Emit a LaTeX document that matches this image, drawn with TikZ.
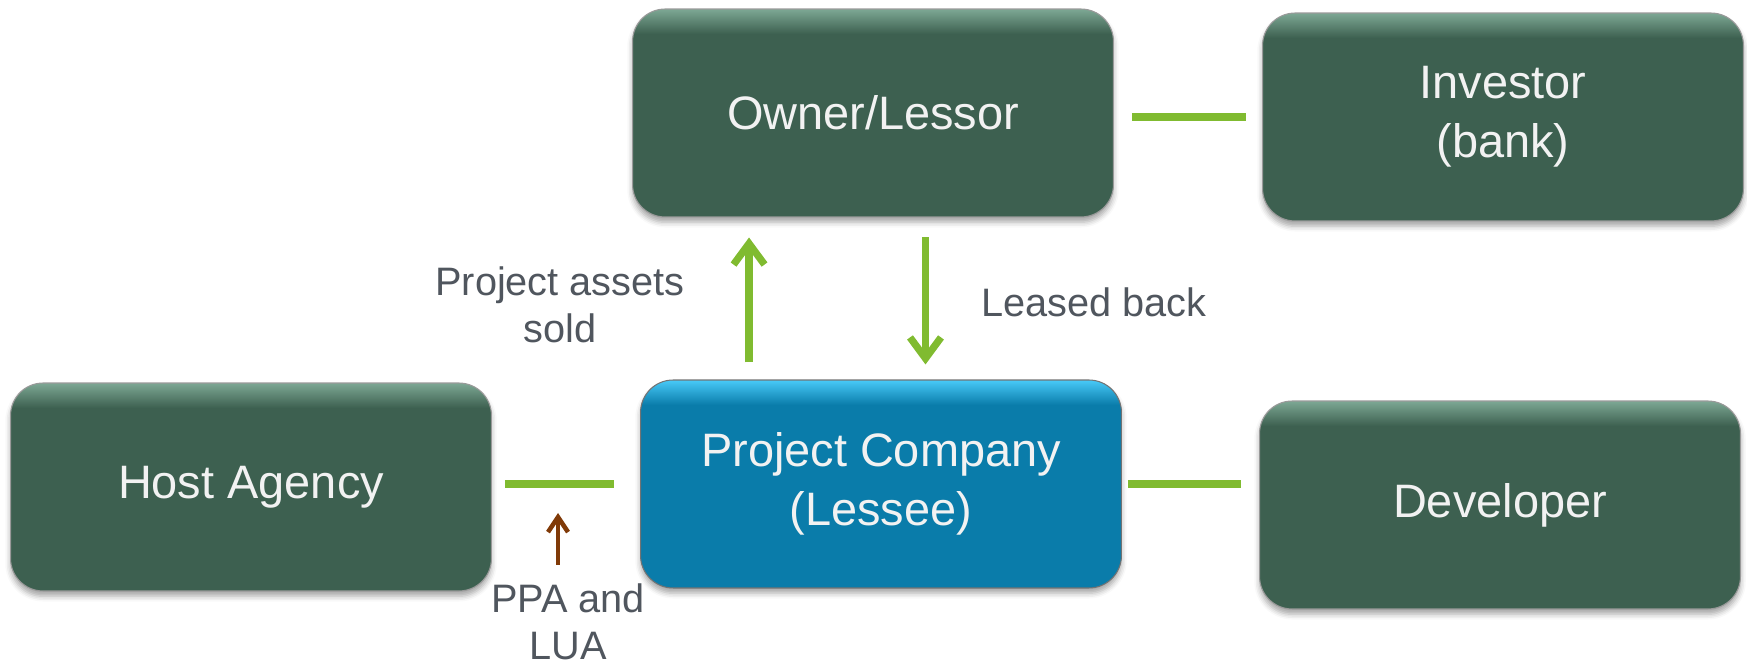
\documentclass[tikz,border=0pt]{standalone}
\usepackage{fontspec}
\setmainfont{Liberation Sans}
\usetikzlibrary{arrows.meta,shadows.blur}

\definecolor{boxgreen}{RGB}{61,96,80}
\definecolor{boxgreentop}{RGB}{125,168,148}
\definecolor{boxblue}{RGB}{10,124,170}
\definecolor{boxbluetop}{RGB}{72,202,248}
\definecolor{linkgreen}{RGB}{128,187,48}
\definecolor{cuebrown}{RGB}{128,58,8}
\definecolor{labelgray}{RGB}{80,86,94}

\pgfdeclareverticalshading{greenbox}{100bp}{color(0bp)=(boxgreen); color(69bp)=(boxgreen); color(75bp)=(boxgreentop); color(100bp)=(boxgreentop)}
\pgfdeclareverticalshading{bluebox}{100bp}{color(0bp)=(boxblue); color(69bp)=(boxblue); color(75bp)=(boxbluetop); color(100bp)=(boxbluetop)}

\begin{document}
\begin{tikzpicture}[x=0.02cm, y=0.02cm]

\useasboundingbox (0,0) rectangle (1747,665);

\tikzset{party/.style={rounded corners=0.65cm, draw=black!40, line width=0.6pt, shading=greenbox,
  minimum width=9.62cm, minimum height=4.16cm, align=center, text=white!95!black,
  font=\fontsize{26.7}{33.4}\selectfont,
  blur shadow={shadow xshift=0pt, shadow yshift=-3pt, shadow blur radius=3pt, shadow opacity=35}}}
\tikzset{lessee/.style={party, shading=bluebox, draw=black!55}}
\tikzset{lbl/.style={align=center, text=labelgray, font=\fontsize{22.6}{27}\selectfont}}

\node[party] (owner) at (873,552) {Owner/Lessor};
\node[party] (investor) at (1503,548) {Investor\\(bank)};
\node[party] (host) at (251,178) {Host Agency};
\node[lessee] (pc) at (881,181) {Project Company\\(Lessee)};
\node[party] (dev) at (1500,160) {Developer};

\node[lbl] (sold) at (560,360) {Project assets\\sold};
\node[lbl, anchor=west] (back) at (975,363) {Leased back};
\node[lbl] (ppa) at (568,43) {PPA and\\LUA};

\tikzset{link/.style={-, draw=linkgreen, line width=4.1pt}};
\tikzset{flow/.style={-{Straight Barb[length=0.42cm, width=0.62cm]}, draw=linkgreen, line width=4.1pt}};
\tikzset{cue/.style={-{Straight Barb[length=0.3cm, width=0.4cm]}, draw=cuebrown, line width=2.6pt}};

\path (owner.east |- investor) edge [link, shorten <=0.36cm, shorten >=0.32cm] (investor);
\path (host.east |- pc) edge [link, shorten <=0.26cm, shorten >=0.52cm] (pc);
\path (pc) edge [link, shorten <=0.12cm, shorten >=0.36cm] (pc.east -| dev.west);

\path ([xshift=-2.64cm]pc.north) edge [flow, shorten <=0.34cm, shorten >=0.4cm] ([xshift=-2.64cm]pc.north |- owner.south);
\path ([xshift=1.05cm]owner.south) edge [flow, shorten <=0.4cm, shorten >=0.3cm] ([xshift=1.05cm]owner.south |- pc.north);

\coordinate (cuefoot) at (558,100);
\coordinate (cuetip) at (558,152);
\path (cuefoot) edge [cue] (cuetip);
\end{tikzpicture}
\end{document}
